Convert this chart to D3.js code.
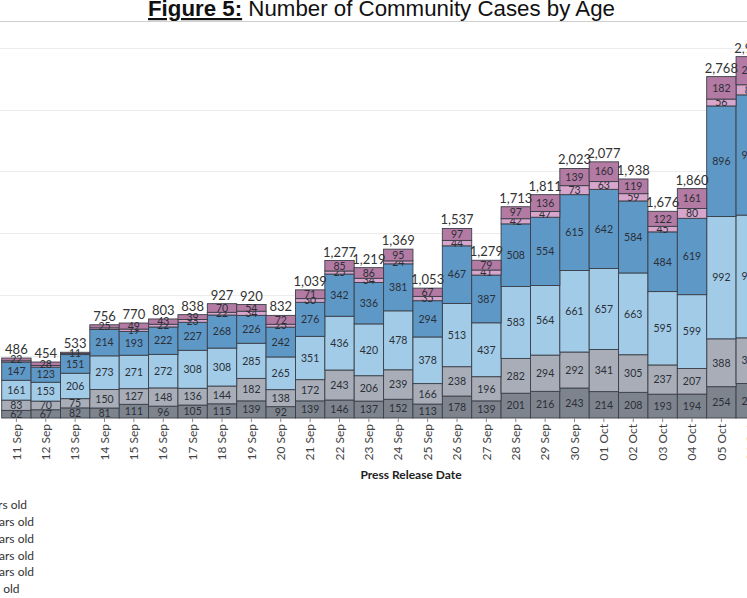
<!DOCTYPE html>
<html>
<head>
<meta charset="utf-8">
<script src="https://cdn.jsdelivr.net/npm/d3@7"></script>
<style>
  body { margin: 0; background: #fff; }
  #chart { width: 747px; height: 598px; overflow: hidden; }
  svg { display: block; }
</style>
</head>
<body>
<div id="chart"></div>
<script>
// press release dates
var dates = ["11 Sep", "12 Sep", "13 Sep", "14 Sep", "15 Sep", "16 Sep", "17 Sep", "18 Sep", "19 Sep",
  "20 Sep", "21 Sep", "22 Sep", "23 Sep", "24 Sep", "25 Sep", "26 Sep", "27 Sep", "28 Sep", "29 Sep",
  "30 Sep", "01 Oct", "02 Oct", "03 Oct", "04 Oct", "05 Oct", "06 Oct"];

// age groups, stacked bottom to top
var ageGroups = ["0 - 11 years old", "12 - 19 years old", "20 - 39 years old",
  "40 - 59 years old", "60 - 69 years old", "\u2265 70 years old"];

var group1 = [62, 67, 82, 81, 111, 96, 105, 115, 139, 92, 139, 146, 137, 152, 113, 178, 139, 201, 216, 243, 214, 208, 193, 194, 254, 280];
var group2 = [83, 70, 75, 150, 127, 148, 136, 144, 182, 138, 172, 243, 206, 239, 166, 238, 196, 282, 294, 292, 341, 305, 237, 207, 388, 370];
var group3 = [161, 153, 206, 273, 271, 272, 308, 308, 285, 265, 351, 436, 420, 478, 378, 513, 437, 583, 564, 661, 657, 663, 595, 599, 992, 995];
var group4 = [147, 123, 151, 214, 193, 222, 227, 268, 226, 242, 276, 342, 336, 381, 294, 467, 387, 508, 554, 615, 642, 584, 484, 619, 896, 975];
var group5 = [11, 13, 8, 13, 19, 22, 23, 22, 34, 23, 30, 25, 34, 24, 35, 44, 41, 42, 47, 73, 63, 59, 45, 80, 56, 82];
var group6 = [22, 28, 11, 25, 49, 43, 39, 70, 54, 72, 71, 85, 86, 95, 67, 97, 79, 97, 136, 139, 160, 119, 122, 161, 182, 228];

var yTicks = [0, 500, 1000, 1500, 2000, 2500, 3000];

var colors = ["#7e848e", "#a8adb8", "#a2cbe8", "#5e98c7", "#d8a5cc", "#b37aa3"];

function init() {
    var width = 747, height = 598;
    var series = [group1, group2, group3, group4, group5, group6];

    var rows = dates.map(function(d, i) {
        var row = { date: d };
        series.forEach(function(s, k) { row["g" + k] = s[i]; });
        return row;
    });
    var keys = series.map(function(s, k) { return "g" + k; });
    var stacked = d3.stack().keys(keys)(rows);

    var svg = d3.select("#chart")
        .append("svg")
        .attr("width", width)
        .attr("height", height);

    svg.append("rect").attr("width", width).attr("height", height).attr("fill", "#fff");

    // title
    var title = svg.append("text")
        .attr("x", 148)
        .attr("y", 16)
        .attr("font-family", "Liberation Sans, Arial, sans-serif")
        .attr("font-size", 22)
        .attr("fill", "#111")
        .attr("textLength", 467)
        .attr("lengthAdjust", "spacingAndGlyphs");
    title.append("tspan")
        .attr("font-weight", "bold")
        .style("text-decoration", "underline")
        .text("Figure 5:");
    title.append("tspan").text(" Number of Community Cases by Age");

    svg.append("line")
        .attr("x1", 0).attr("x2", width)
        .attr("y1", 21.5).attr("y2", 21.5)
        .attr("stroke", "#cfcfcf");

    // scales, the plot runs past both edges of the frame
    var xScale = d3.scaleBand()
        .domain(dates)
        .range([1.7, 1.7 + dates.length * 29.375])
        .padding(0);

    var yScale = d3.scaleLinear()
        .domain([0, 3000])
        .range([418, 48]);

    // gridlines
    svg.append("g")
        .selectAll("line")
        .data(yTicks.slice(1))
        .enter()
        .append("line")
        .attr("x1", 0).attr("x2", width)
        .attr("y1", d => Math.round(yScale(d)) + 0.5)
        .attr("y2", d => Math.round(yScale(d)) + 0.5)
        .attr("stroke", "#ececec");

    // bars
    var layers = svg.append("g")
        .selectAll("g")
        .data(stacked)
        .enter()
        .append("g")
        .attr("fill", (d, i) => colors[i]);

    layers.selectAll("rect")
        .data(d => d)
        .enter()
        .append("rect")
        .attr("x", d => xScale(d.data.date))
        .attr("width", xScale.bandwidth())
        .attr("y", d => yScale(d[1]))
        .attr("height", d => yScale(d[0]) - yScale(d[1]))
        .attr("stroke", "#3a3f47")
        .attr("stroke-width", 0.9);

    // segment labels
    layers.each(function(layer, li) {
        d3.select(this).selectAll("text")
            .data(layer.filter(d => (d[1] - d[0]) >= 15 || li === stacked.length - 1))
            .enter()
            .append("text")
            .attr("x", d => xScale(d.data.date) + xScale.bandwidth() / 2)
            .attr("y", d => yScale((d[0] + d[1]) / 2))
            .attr("dy", "0.36em")
            .attr("text-anchor", "middle")
            .attr("font-family", "Lato, sans-serif")
            .attr("font-size", 10.5)
            .attr("fill", "#2b2f36")
            .text(d => d[1] - d[0]);
    });

    // totals
    var fmt = d3.format(",");
    svg.append("g")
        .selectAll("text")
        .data(rows)
        .enter()
        .append("text")
        .attr("x", d => xScale(d.date) + xScale.bandwidth() / 2)
        .attr("y", d => yScale(d3.sum(keys, k => d[k])) - 4)
        .attr("text-anchor", "middle")
        .attr("font-family", "Lato, sans-serif")
        .attr("font-size", 13)
        .attr("fill", "#333")
        .text(d => fmt(d3.sum(keys, k => d[k])));

    // x axis
    var xAxis = d3.axisBottom(xScale).tickSize(4).tickSizeOuter(0);
    var axisG = svg.append("g")
        .attr("transform", "translate(0,418)")
        .call(xAxis);
    axisG.select(".domain").remove();
    axisG.selectAll(".tick line").attr("stroke", "#888");
    axisG.selectAll(".tick text")
        .attr("transform", "rotate(-90)")
        .attr("x", -6)
        .attr("y", 0)
        .attr("dy", "0.35em")
        .attr("text-anchor", "end")
        .attr("font-family", "Lato, sans-serif")
        .attr("font-size", 12)
        .attr("fill", "#444");

    svg.append("text")
        .attr("x", 411)
        .attr("y", 479)
        .attr("text-anchor", "middle")
        .attr("font-family", "Lato, sans-serif")
        .attr("font-weight", "bold")
        .attr("font-size", 12)
        .attr("fill", "#222")
        .text("Press Release Date");

    // legend, mostly outside the frame on the left
    var legend = svg.append("g");
    var probe = legend.append("text")
        .attr("font-family", "Lato, sans-serif")
        .attr("font-size", 12)
        .text(ageGroups[1]);
    var textX = 34 - probe.node().getComputedTextLength();
    probe.remove();

    var items = legend.selectAll("g")
        .data(ageGroups)
        .enter()
        .append("g")
        .attr("transform", (d, i) => "translate(0," + (505 + i * 16.8) + ")");
    items.append("rect")
        .attr("x", textX - 18)
        .attr("y", -5)
        .attr("width", 10)
        .attr("height", 10)
        .attr("fill", (d, i) => colors[i]);
    items.append("text")
        .attr("x", textX)
        .attr("dy", "0.35em")
        .attr("font-family", "Lato, sans-serif")
        .attr("font-size", 12)
        .attr("fill", "#333")
        .text(d => d);
}
window.addEventListener('load', init, false);
</script>
</body>
</html>
